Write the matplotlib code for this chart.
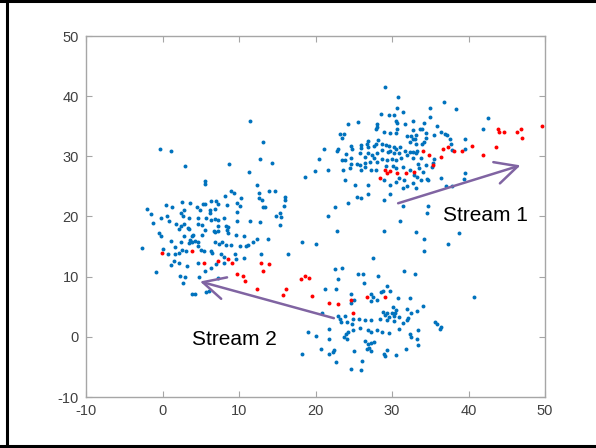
import numpy as np
import matplotlib.pyplot as plt
from matplotlib.lines import Line2D

plt.rcParams['font.family'] = ['Liberation Sans', 'DejaVu Sans']
plt.rcParams['axes.unicode_minus'] = False

# blue points
left_cluster = [
    (11.5, 35.9), (13.1, 32.3), (-0.3, 31.3), (1.1, 30.9), (12.8, 29.5), (14.3, 28.9),
    (8.7, 28.8), (2.9, 28.4), (11.3, 27.4), (12.3, 25.3), (5.6, 25.9), (5.6, 25.4),
    (12.6, 23.9), (13.9, 24.2), (14.7, 24.2), (9.0, 24.2), (9.4, 23.9), (8.2, 23.4),
    (12.6, 23.1), (13.0, 22.7), (16.0, 23.2), (16.0, 22.7), (10.3, 23.0), (2.5, 22.4),
    (3.6, 22.2), (6.3, 22.6), (7.0, 22.6), (5.3, 22.1), (5.6, 22.1), (7.3, 22.1),
    (8.4, 21.9), (9.7, 22.2), (10.1, 21.8), (0.4, 21.9), (1.3, 21.6), (-2.0, 21.3),
    (13.1, 21.6), (13.4, 21.5), (15.9, 21.7), (4.5, 21.5), (4.9, 21.1), (6.2, 21.1),
    (6.9, 21.2), (2.8, 21.1),
    (-1.5, 20.4), (-0.2, 19.8), (-1.2, 19.0), (0.6, 20.1), (0.8, 19.3), (2.4, 20.6),
    (2.7, 20.1), (3.5, 19.7), (4.6, 19.8), (4.7, 18.8), (5.7, 19.8), (6.2, 20.6),
    (6.3, 19.5), (6.9, 19.6), (7.3, 19.4), (8.0, 19.7), (9.7, 20.8), (9.7, 19.3),
    (7.2, 18.4), (6.7, 17.6), (7.3, 17.6), (8.3, 18.4), (8.6, 18.2), (8.6, 17.2),
    (1.8, 18.7), (2.4, 18.4), (2.8, 18.7), (3.3, 18.1), (3.5, 17.9), (5.1, 18.6),
    (5.6, 17.8), (2.1, 18.0), (-0.5, 17.2), (-0.2, 16.8), (2.8, 16.8), (3.8, 16.8),
    (4.0, 16.9), (5.1, 16.9), (3.6, 16.1), (3.8, 15.8), (4.2, 16.0), (4.7, 15.8),
    (3.5, 15.6), (1.1, 15.9), (2.4, 15.8), (1.6, 15.0), (0.1, 14.6), (0.7, 13.8),
    (1.6, 13.8), (2.1, 14.0), (2.6, 14.4), (3.1, 14.3), (4.6, 15.1), (5.0, 14.4),
    (5.4, 14.2), (6.3, 14.2), (6.5, 14.0), (6.9, 15.7), (7.4, 15.5), (7.8, 15.7),
    (8.3, 15.2), (9.0, 15.3), (10.1, 15.1), (10.9, 15.1), (11.2, 15.3), (11.8, 15.7),
    (12.3, 16.2), (13.8, 16.2), (9.6, 16.9), (10.6, 16.8), (8.4, 17.8), (6.8, 17.5),
    (-2.7, 14.8), (11.5, 19.3), (12.8, 19.1), (14.9, 20.1), (15.3, 18.6), (15.5, 19.9),
    (15.4, 20.6), (12.9, 13.8), (10.7, 13.1), (9.5, 13.7), (8.0, 13.3), (7.6, 13.8),
    (9.6, 13.0), (8.1, 12.2), (7.0, 12.1), (6.4, 11.5), (5.6, 10.9), (4.6, 12.3),
    (3.2, 11.7), (1.5, 12.6), (1.1, 12.0), (2.2, 12.3), (-0.9, 10.7), (2.3, 10.1),
    (2.9, 9.9), (2.7, 9.0), (4.8, 10.0), (7.2, 9.7), (3.8, 7.2), (4.3, 7.2),
    (5.7, 7.5), (6.1, 7.6), (16.4, 13.8),
]

top_cluster = [
    (29.1, 41.6), (30.8, 39.9), (30.6, 38.0), (29.6, 36.9), (30.2, 36.9), (28.6, 37.1),
    (31.4, 37.3), (30.5, 35.9), (30.7, 35.6), (28.0, 35.4), (28.0, 34.9), (27.9, 34.6),
    (25.5, 35.7), (24.3, 35.3), (31.7, 35.3), (29.0, 34.0), (29.8, 33.8), (30.7, 34.6),
    (30.5, 33.8), (32.0, 33.4), (32.5, 33.4), (32.3, 32.4), (23.2, 33.7), (23.7, 33.7),
    (23.5, 33.1), (26.9, 32.6), (28.2, 32.7), (26.7, 32.0), (25.9, 31.9), (26.0, 31.4),
    (26.9, 31.6), (27.6, 31.7), (27.9, 32.0), (28.7, 32.0), (29.2, 31.9), (29.6, 31.8),
    (30.3, 31.6), (30.5, 31.3), (31.1, 31.6), (24.7, 31.8), (24.8, 31.2), (23.0, 31.2),
    (22.8, 30.9), (21.1, 31.2), (24.0, 30.4), (24.6, 29.8), (23.8, 29.4), (23.5, 29.4),
    (25.8, 30.5), (26.5, 29.9), (26.9, 30.6), (27.4, 30.2), (27.6, 29.7), (28.1, 30.6),
    (28.7, 31.0), (29.5, 30.8), (29.8, 30.9), (30.2, 30.6), (30.9, 30.6), (31.7, 30.9),
    (32.3, 30.8), (32.0, 30.2), (31.2, 29.7), (30.5, 29.4), (30.0, 29.5), (29.3, 29.4),
    (28.7, 29.5), (28.1, 29.1), (27.1, 29.1), (26.5, 28.9), (25.4, 28.8), (24.7, 28.8),
    (26.5, 28.3), (27.2, 27.8), (27.9, 27.7), (25.9, 27.8), (25.8, 28.5), (24.5, 28.0),
    (23.6, 27.8), (20.4, 29.5), (21.6, 27.8), (19.9, 27.6), (18.6, 26.6), (23.9, 26.0),
    (25.2, 25.3), (26.9, 25.3), (29.0, 26.0), (29.8, 25.3), (30.9, 26.4), (31.6, 26.0),
    (30.5, 25.8), (32.3, 27.7), (31.4, 28.2), (30.5, 28.0), (30.1, 28.4), (29.2, 28.4),
    (32.0, 25.0), (31.5, 24.7),
    (36.8, 39.1), (35.0, 38.0), (38.4, 37.9), (35.0, 36.6), (32.8, 35.9), (34.2, 35.5),
    (35.9, 35.1), (33.7, 34.5), (33.9, 34.5), (32.8, 34.4), (36.4, 34.1), (36.9, 33.7),
    (37.2, 33.5), (35.5, 33.5), (34.5, 33.8), (33.1, 33.6), (32.7, 32.8), (33.0, 32.8),
    (33.1, 32.1), (34.5, 33.0), (34.2, 32.3), (33.9, 32.1), (37.6, 32.8), (37.7, 32.1),
    (39.5, 32.9), (39.5, 31.3), (37.8, 31.0), (42.5, 36.3), (41.9, 34.5), (32.7, 30.8),
    (33.1, 30.5), (33.3, 30.9), (32.7, 29.8), (33.8, 29.7), (35.5, 29.5), (35.3, 28.9),
    (33.4, 28.8), (34.5, 28.5), (35.2, 28.3), (33.5, 28.0), (34.0, 27.4), (32.9, 26.9),
    (33.3, 26.5), (33.8, 26.0), (34.6, 26.3), (34.7, 26.0), (32.7, 25.5), (33.1, 24.8),
    (36.4, 26.4), (37.1, 25.0), (37.8, 25.0), (39.6, 27.3), (39.4, 26.2),
]

middle_points = [
    (18.2, 15.7), (20.0, 15.5), (22.6, 21.5), (24.2, 22.2), (21.6, 20.1), (22.8, 17.6),
    (25.4, 23.3), (25.9, 23.1), (26.8, 23.7), (28.9, 22.7), (29.7, 23.7), (31.5, 21.7),
    (31.1, 19.3), (28.9, 17.6), (33.1, 17.5), (34.2, 16.3), (34.2, 14.3), (34.7, 21.8),
    (34.6, 20.5), (37.3, 15.5), (38.7, 17.2), (27.5, 13.1), (22.5, 11.2), (23.5, 11.4),
    (25.6, 10.5), (26.2, 10.4), (28.2, 10.1), (31.6, 11.0), (33.0, 10.4), (22.9, 9.6),
    (40.7, 6.6),
]

bottom_cluster = [
    (26.3, 8.9), (21.3, 7.9), (22.7, 7.9), (24.6, 7.1), (25.0, 6.2), (24.7, 5.7),
    (27.2, 7.1), (27.5, 6.6), (27.3, 5.9), (28.1, 6.2), (28.5, 7.4), (28.8, 7.6),
    (29.3, 8.4), (29.7, 7.7), (30.8, 6.4), (32.3, 6.5), (30.1, 5.0), (30.5, 4.4),
    (30.4, 3.9), (30.0, 4.0), (29.4, 3.9), (28.8, 4.1), (29.1, 3.7), (29.6, 3.3),
    (30.3, 3.5), (30.9, 3.3), (32.0, 4.7), (32.5, 4.0), (33.3, 4.3), (34.0, 5.1),
    (32.1, 3.1), (31.9, 2.8), (31.5, 2.3), (30.3, 2.6), (29.4, 2.8), (28.4, 2.9),
    (27.2, 2.8), (26.5, 2.8), (25.7, 3.0), (24.9, 2.9), (24.8, 2.2), (24.1, 2.5),
    (23.8, 3.5), (23.2, 3.0), (23.3, 2.4), (22.9, 3.5), (20.9, 3.9), (21.7, 1.3),
    (24.3, 0.8), (24.0, 0.5), (23.7, 0.0), (24.1, -0.3), (24.9, 1.2), (25.8, 1.5),
    (26.8, 1.2), (27.3, 0.8), (28.0, 1.1), (28.7, 0.8), (29.6, 0.6), (30.9, 1.3),
    (32.3, 0.4), (32.5, 0.0), (33.4, 1.1), (33.3, -0.3), (33.4, -1.4), (31.8, -2.1),
    (30.5, -3.1), (29.4, -2.2), (29.0, -2.8), (29.1, -3.2), (27.6, -0.9), (27.2, -1.0),
    (26.8, -1.2), (27.0, -1.8), (26.7, -2.1), (27.2, -2.4), (26.5, -0.7), (25.0, -2.4),
    (22.7, -4.2), (22.4, -2.2), (22.3, -2.5), (21.7, -2.9), (20.7, -2.1), (21.7, -0.3),
    (20.1, 0.1), (19.0, 0.8), (18.2, -2.8), (24.7, -5.3), (26.1, -4.0), (26.0, -5.5),
    (35.6, 2.4), (35.9, 2.1), (36.4, 1.6), (36.3, 1.3),
]

# red points (the drifting ones)
red_points = [
    (49.6, 35.1), (46.8, 34.6), (47.0, 33.1), (46.3, 34.0), (44.7, 34.1), (44.0, 34.1),
    (43.9, 34.5), (43.6, 31.5), (41.9, 30.2), (40.5, 31.7), (39.2, 30.9), (38.1, 30.9),
    (37.3, 31.5), (36.7, 31.2), (36.4, 29.9), (35.3, 28.5), (34.8, 30.2), (34.0, 30.9),
    (32.9, 27.4), (31.8, 27.2), (30.7, 27.3), (29.7, 27.6), (29.4, 27.2), (29.1, 27.7),
    (28.4, 26.4),
    (-0.1, 14.0), (3.9, 14.2), (5.4, 12.3), (7.3, 12.6), (8.6, 13.0), (9.1, 12.2),
    (9.8, 10.5), (10.5, 10.1), (10.8, 9.2), (12.9, 12.3), (13.9, 12.1), (13.1, 11.0),
    (12.3, 8.0), (16.2, 7.9), (15.8, 7.0),
    (18.6, 10.1), (18.1, 9.6), (19.1, 9.7), (19.6, 6.8), (21.7, 5.6), (22.9, 5.4),
    (24.6, 6.1), (26.7, 6.7), (29.1, 6.6), (24.9, 3.9),
]

# arrows: (start, end) and labels
stream1_arrow = ((30.8, 22.2), (46.8, 28.5))
stream2_arrow = ((22.4, 3.1), (4.9, 9.2))
stream1_label = (36.7, 20.2, 'Stream 1')
stream2_label = (3.9, -0.4, 'Stream 2')

ticks = [-10, 0, 10, 20, 30, 40, 50]

fig = plt.figure(figsize=(5.96, 4.48), dpi=100)
ax = fig.add_axes([86 / 596, 1 - 397 / 448, 459 / 596, 361 / 448])

blue = np.array(left_cluster + top_cluster + middle_points + bottom_cluster)
red = np.array(red_points)
ax.scatter(blue[:, 0], blue[:, 1], s=8, color='#0072BD', linewidths=0)
ax.scatter(red[:, 0], red[:, 1], s=8, color='#FF0000', linewidths=0)

purple = '#8064A2'
for start, end in [stream1_arrow, stream2_arrow]:
    ax.annotate('', xy=end, xytext=start,
                arrowprops=dict(arrowstyle='->,head_length=0.8,head_width=0.4',
                                mutation_scale=20, lw=1.8, color=purple,
                                shrinkA=0, shrinkB=0))

for x, y, s in [stream1_label, stream2_label]:
    ax.text(x, y, s, fontsize=15, ha='left', va='center', color='black')

ax.set_xlim(-10, 50)
ax.set_ylim(-10, 50)
ax.set_xticks(ticks)
ax.set_yticks(ticks)
for sp in ax.spines.values():
    sp.set_color('#a6a6a6')
    sp.set_linewidth(1.0)
ax.tick_params(direction='in', length=4, width=0.8, color='#a6a6a6',
               labelcolor='#404040', labelsize=10.5, top=True, right=True, pad=5)

# black frame around the figure (no right edge visible in the screenshot)
frame = dict(color='black', lw=2.2, transform=fig.transFigure)
fig.add_artist(Line2D([0.0, 1.0], [0.998, 0.998], **frame))
fig.add_artist(Line2D([7.5 / 596, 7.5 / 596], [0.0, 1.0], **frame))
fig.add_artist(Line2D([0.0, 1.0], [1 - 446 / 448, 1 - 446 / 448], **frame))

fig.savefig('out.png', dpi=100)
